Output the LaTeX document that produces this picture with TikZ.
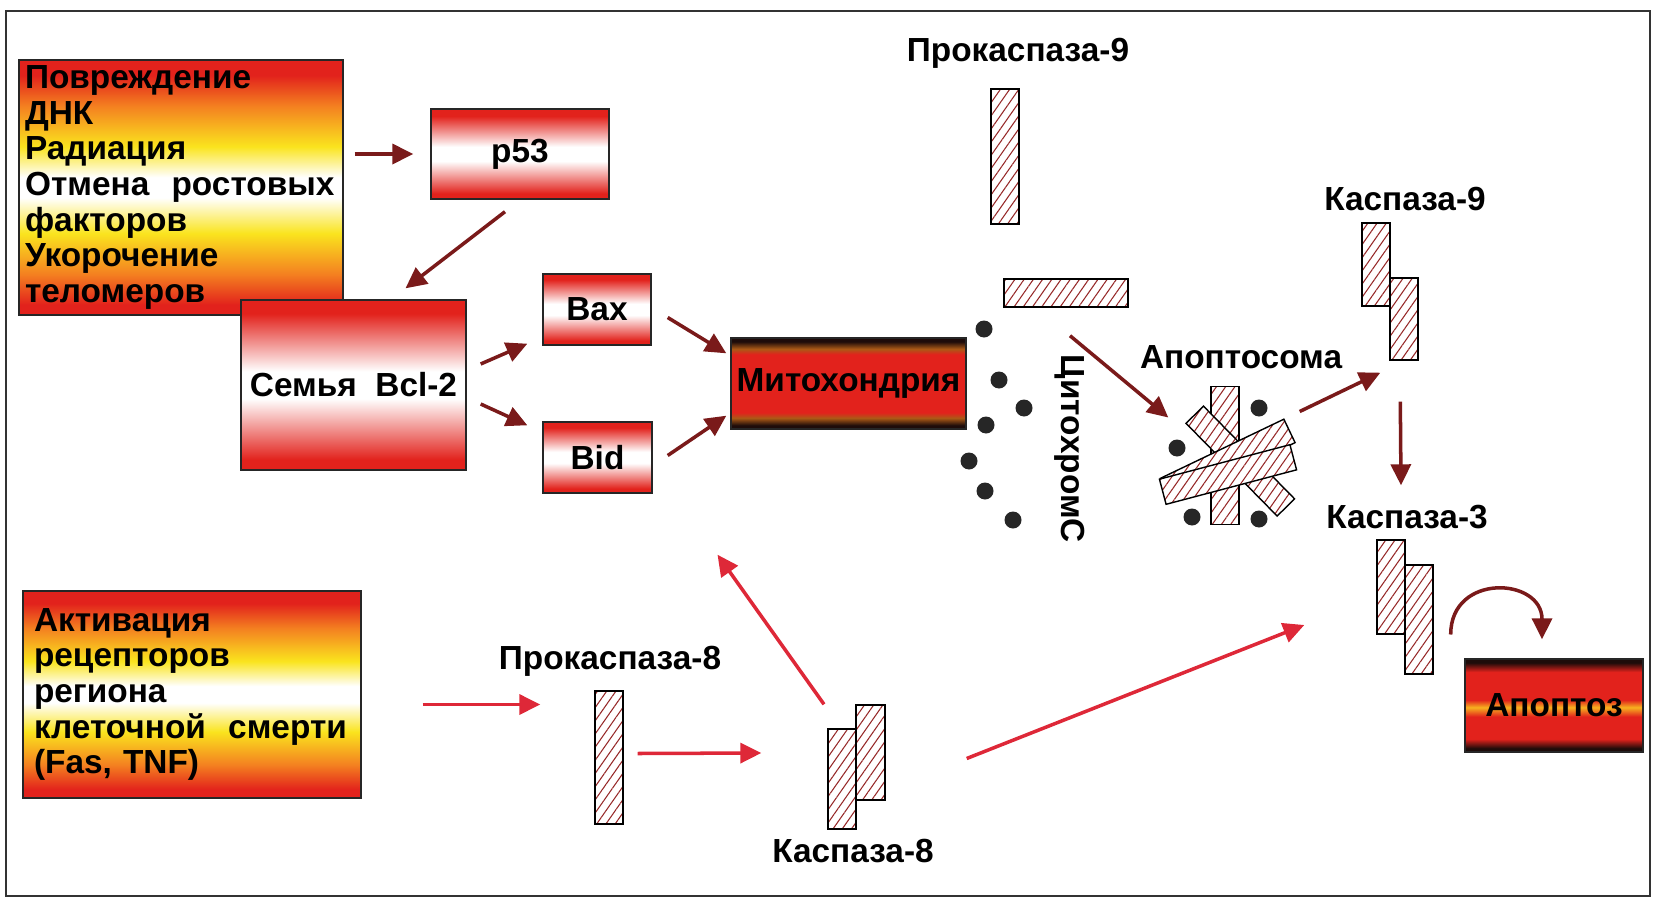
\documentclass[tikz,border=0pt]{standalone}
\usepackage{fontspec}
\setmainfont{Liberation Sans}
\usetikzlibrary{arrows.meta,calc,patterns.meta}

\definecolor{boxred}{RGB}{226,34,28}
\definecolor{boxorange}{RGB}{244,128,32}
\definecolor{boxyellow}{RGB}{250,228,30}
\definecolor{arrowdark}{RGB}{122,26,26}
\definecolor{arrowred}{RGB}{222,40,56}
\definecolor{hatchred}{RGB}{150,40,40}
\definecolor{mitodark}{RGB}{30,12,10}

\pgfdeclareverticalshading{fire}{100bp}{color(0bp)=(boxred); color(27bp)=(boxred); color(33bp)=(boxorange); color(41bp)=(boxyellow); color(48bp)=(white); color(52bp)=(white); color(58bp)=(boxyellow); color(66bp)=(boxorange); color(72bp)=(boxred); color(100bp)=(boxred)}
\pgfdeclareverticalshading{redwhite}{100bp}{color(0bp)=(boxred); color(28bp)=(boxred); color(46bp)=(white); color(54bp)=(white); color(71bp)=(boxred); color(100bp)=(boxred)}
\pgfdeclareverticalshading{mitoshade}{100bp}{color(0bp)=(mitodark); color(27bp)=(mitodark); color(31bp)=(boxorange!70!black); color(34bp)=(boxred); color(66bp)=(boxred); color(69bp)=(boxorange!70!black); color(73bp)=(mitodark); color(100bp)=(mitodark)}
\pgfdeclareverticalshading{apopshade}{100bp}{color(0bp)=(mitodark); color(27bp)=(mitodark); color(32bp)=(boxred); color(44bp)=(boxred); color(49bp)=(boxorange!50!boxyellow); color(53bp)=(boxred); color(68bp)=(boxred); color(73bp)=(mitodark); color(100bp)=(mitodark)}

\begin{document}
\begin{tikzpicture}[x=0.02cm, y=-0.02cm,
    txt/.style={font=\fontsize{19}{20.3}\selectfont\bfseries, inner sep=0pt},
    grad/.style={draw=black!85, line width=0.8pt, shade, shading=#1, txt},
    hatch/.style={draw=black, line width=0.8pt, inner sep=0pt, preaction={fill=white},
        pattern={Lines[angle=55,distance=4.3pt,line width=0.6pt]}, pattern color=hatchred},
    dot/.style={circle, fill=black!85, inner sep=0pt, minimum size=0.34cm},
    darr/.style={draw=arrowdark, line width=2pt, -{Triangle[length=0.42cm,width=0.4cm]}},
    rarr/.style={draw=arrowred, line width=2pt, -{Triangle[length=0.42cm,width=0.4cm]}}]
    \useasboundingbox (0,0) rectangle (1656,899);
    \draw[black!80, line width=1.2pt] (6,11) rectangle (1650,896);

    \node[grad=fire, minimum width=6.48cm, minimum height=5.1cm, text width=6.24cm,
        inner xsep=0.12cm, align=left] (dmg) at (181,187.5)
        {Повреждение\\ДНК\\Радиация\\Отмена\ \ ростовых\\факторов\\Укорочение\\теломеров};
    \node[grad=redwhite, minimum width=3.56cm, minimum height=1.8cm] (p53) at (520,154) {p53};
    \node[grad=redwhite, minimum width=4.5cm, minimum height=3.4cm] (bcl) at (353.5,385) {Семья\ \ Bcl-2};
    \node[grad=redwhite, minimum width=2.16cm, minimum height=1.42cm] (bax) at (597,309.5) {Bax};
    \node[grad=redwhite, minimum width=2.18cm, minimum height=1.42cm] (bid) at (597.5,457.5) {Bid};
    \node[grad=mitoshade, minimum width=4.7cm, minimum height=1.82cm] (mito) at (848.5,383.5) {Митохондрия};
    \node[grad=apopshade, minimum width=3.56cm, minimum height=1.86cm] (apopt) at (1554,705.5) {Апоптоз};
    \node[grad=fire, minimum width=6.76cm, minimum height=4.14cm, text width=6.32cm,
        inner xsep=0.22cm, align=left] (recep) at (192,694.5)
        {Активация\\рецепторов\\региона\\клеточной\ \ смерти\\(Fas, TNF)};

    \node[txt] (prok9lbl) at (1018,53) {Прокаспаза-9};
    \node[hatch, minimum width=0.56cm, minimum height=2.7cm] (prok9a) at (1005,156.5) {};
    \node[hatch, minimum width=2.48cm, minimum height=0.56cm] (prok9b) at (1066,293) {};

    \foreach \x/\y [count=\i] in {984/329, 999/380, 1024/408, 986/425, 969/461, 985/491, 1013/520}
        \node[dot] (c\i) at (\x,\y) {};
    \node[txt, rotate=-90] (cytc) at (1070,449) {ЦитохромС};

    \node[txt] (apos) at (1241,357) {Апоптосома};
    \node[hatch, minimum width=0.56cm, minimum height=2.75cm] (apv) at (1225,455.5) {};
    \node[hatch, minimum width=2.6cm, minimum height=0.49cm, rotate=-45.5] (apd) at (1240.3,461.1) {};
    \node[hatch, minimum width=2.74cm, minimum height=0.52cm, rotate=25.6] (apu) at (1227.7,460.5) {};
    \node[hatch, minimum width=2.7cm, minimum height=0.52cm, rotate=14.8] (apl) at (1228,474.5) {};
    \foreach \x/\y [count=\i] in {1177/448, 1259/408, 1192/517, 1259/519}
        \node[dot] (d\i) at (\x,\y) {};

    \node[txt] (casp9lbl) at (1405,199) {Каспаза-9};
    \node[hatch, minimum width=0.56cm, minimum height=1.66cm] (casp9a) at (1376,264.5) {};
    \node[hatch, minimum width=0.56cm, minimum height=1.64cm] (casp9b) at (1404,319) {};
    \node[txt] (casp3lbl) at (1407,517) {Каспаза-3};
    \node[hatch, minimum width=0.56cm, minimum height=1.88cm] (casp3a) at (1391,587) {};
    \node[hatch, minimum width=0.56cm, minimum height=2.18cm] (casp3b) at (1419,619.5) {};

    \node[txt] (prok8lbl) at (610,661) {Прокаспаза-8};
    \node[hatch, minimum width=0.56cm, minimum height=2.66cm] (prok8) at (609,757.5) {};
    \node[hatch, minimum width=0.56cm, minimum height=2.0cm] (casp8a) at (842,779) {};
    \node[hatch, minimum width=0.58cm, minimum height=1.9cm] (casp8b) at (870.5,752.5) {};
    \node[txt] (casp8lbl) at (853,851) {Каспаза-8};

    \draw[darr] ($(dmg.east |- p53.west)+(11,0)$) -- ($(p53.west)+(-17,0)$);
    \draw[darr] ($(p53.south)+(-15,12)$) -- ($(bcl.north)+(52,-11)$);
    \draw[darr] ($(bcl.east)+(14,-21)$) -- ($(bax.south west)+(-15,-2)$);
    \draw[darr] ($(bcl.east)+(14,19)$) -- ($(bid.north west)+(-15,4)$);
    \draw[darr] ($(bax.east)+(16,8)$) -- ($(mito.north west)+(-4,16)$);
    \draw[darr] ($(bid.east)+(15,-2)$) -- ($(mito.south west)+(-4,-14)$);
    \draw[darr] ($(prok9b.south)+(4,28)$) -- ($(apv.west)+(-42,-38)$);
    \draw[darr] ($(apv.east)+(60,-44)$) -- ($(casp9b.south west)+(-9,12)$);
    \draw[darr] ($(casp9b.south west)+(11,41)$) -- ($(casp3a.north)+(10,-54)$);
    \draw[darr] ($(casp3b.east)+(17,15)$) .. controls +(0,-62) and +(0,-62) .. ($(apopt.north)+(-12,-19)$);

    \draw[rarr] ($(recep.east)+(61,10)$) -- ($(prok8.west)+(-54,-53)$);
    \draw[rarr] ($(prok8.east)+(14,-4)$) -- ($(casp8a.west)+(-66,-26)$);
    \draw[rarr] ($(casp8a.north)+(-18,-24)$) -- ($(bid.south)+(120,61)$);
    \draw[rarr] ($(casp8b.east)+(81,6)$) -- ($(casp3a.west)+(-72,38)$);
\end{tikzpicture}
\end{document}
